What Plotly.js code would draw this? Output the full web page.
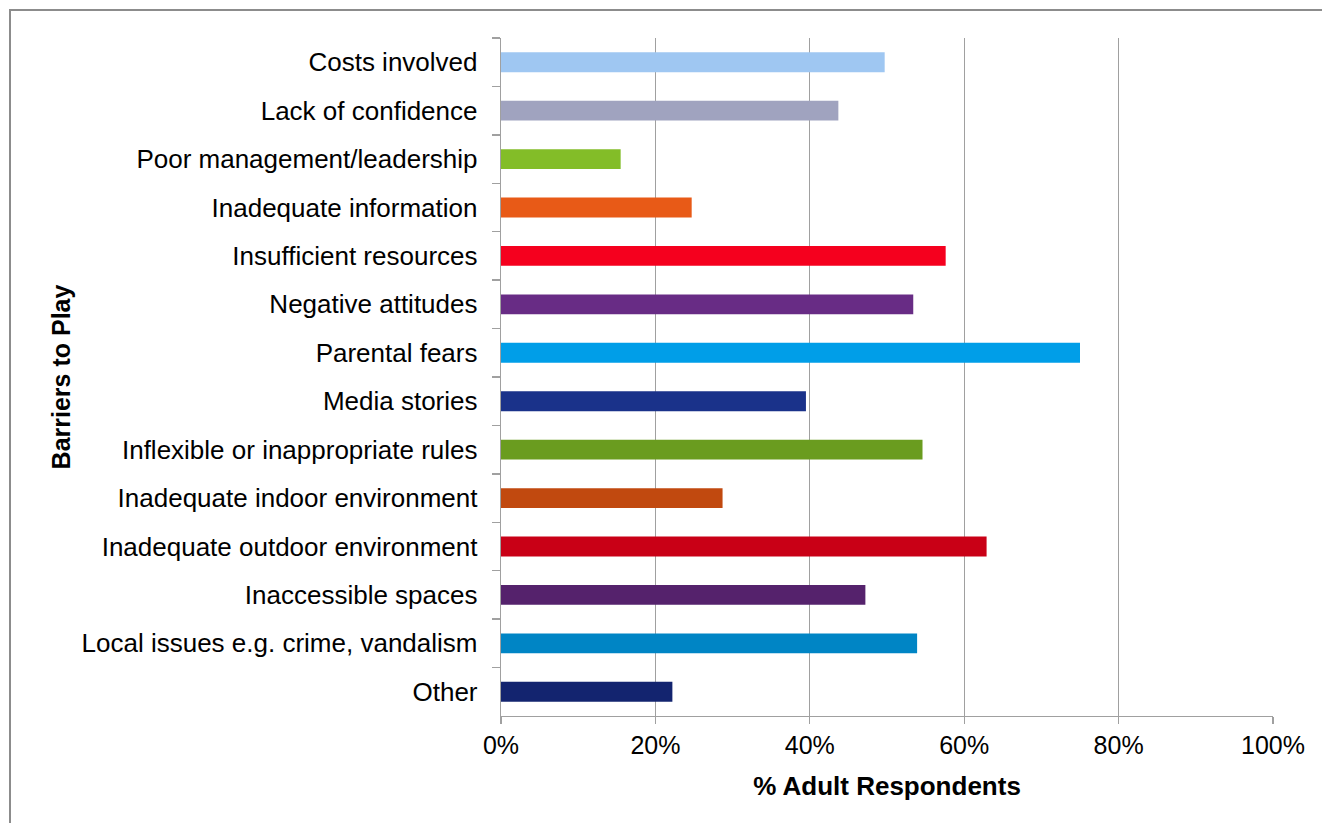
<!DOCTYPE html>
<html>
<head>
<meta charset="utf-8">
<script src="https://cdn.plot.ly/plotly-3.0.1.min.js"></script>
<style>
  html, body { margin: 0; padding: 0; background: #fff; }
  #chart { width: 1322px; height: 823px; }
</style>
</head>
<body>
<div id="chart"></div>
<script>
const categories = [
  "Costs involved",
  "Lack of confidence",
  "Poor management/leadership",
  "Inadequate information",
  "Insufficient resources",
  "Negative attitudes",
  "Parental fears",
  "Media stories",
  "Inflexible or inappropriate rules",
  "Inadequate indoor environment",
  "Inadequate outdoor environment",
  "Inaccessible spaces",
  "Local issues e.g. crime, vandalism",
  "Other"
];
const values = [49.7, 43.7, 15.5, 24.7, 57.6, 53.4, 75.0, 39.5, 54.6, 28.7, 62.9, 47.2, 53.9, 22.2];
const barColors = [
  "#9FC7F2", "#A0A3BF", "#83BD28", "#E85A17", "#F5001E", "#682C85", "#009EE8",
  "#1A328A", "#6A9C1F", "#C1490F", "#C90016", "#55226C", "#0085C5", "#13246F"
];
const xTickVals = [0, 20, 40, 60, 80, 100];
const xTickText = ["0%", "20%", "40%", "60%", "80%", "100%"];

const W = 1322, H = 823;
const L = 501, R = 1273, T = 38, B = 716;
const pw = R - L, ph = B - T;
const px = v => (v - L) / pw;
const py = v => (B - v) / ph;

const trace = {
  type: "bar",
  orientation: "h",
  y: categories,
  x: values,
  marker: { color: barColors, line: { width: 0 } },
  hoverinfo: "x+y"
};

const layout = {
  width: W,
  height: H,
  margin: { l: L, r: W - R, t: T, b: H - B, pad: 0 },
  paper_bgcolor: "#ffffff",
  plot_bgcolor: "#ffffff",
  showlegend: false,
  bargap: 0.59,
  font: { family: "Liberation Sans, Arial, sans-serif", color: "#000000" },
  xaxis: {
    range: [0, 100],
    tickvals: xTickVals,
    ticktext: xTickText,
    showgrid: true,
    gridcolor: "#a0a0a0",
    gridwidth: 1.3,
    zeroline: false,
    showline: true,
    linecolor: "#a0a0a0",
    linewidth: 1.3,
    ticks: "outside",
    ticklen: 7,
    tickwidth: 1.3,
    tickcolor: "#a0a0a0",
    tickfont: { size: 25, color: "#000000" },
    title: { text: "<b>% Adult Respondents</b>", font: { size: 26, color: "#000000" }, standoff: 18 },
    fixedrange: true
  },
  yaxis: {
    type: "category",
    autorange: "reversed",
    showgrid: false,
    zeroline: false,
    showline: true,
    linecolor: "#a0a0a0",
    linewidth: 1.3,
    ticks: "outside",
    tickson: "boundaries",
    ticklen: 8,
    tickwidth: 1.3,
    tickcolor: "#a0a0a0",
    ticklabelstandoff: 17,
    tickfont: { size: 26, color: "#000000" },
    title: { text: "<b>Barriers to Play</b>", font: { size: 25, color: "#000000" }, standoff: 3 },
    fixedrange: true
  },
  shapes: [
    {
      type: "rect", xref: "paper", yref: "paper",
      x0: px(10), x1: px(1340), y0: py(840), y1: py(10),
      line: { color: "#8c8c8c", width: 2 }, fillcolor: "rgba(0,0,0,0)", layer: "below"
    }
  ]
};

Plotly.newPlot("chart", [trace], layout, { displayModeBar: false, staticPlot: true });
</script>
</body>
</html>
